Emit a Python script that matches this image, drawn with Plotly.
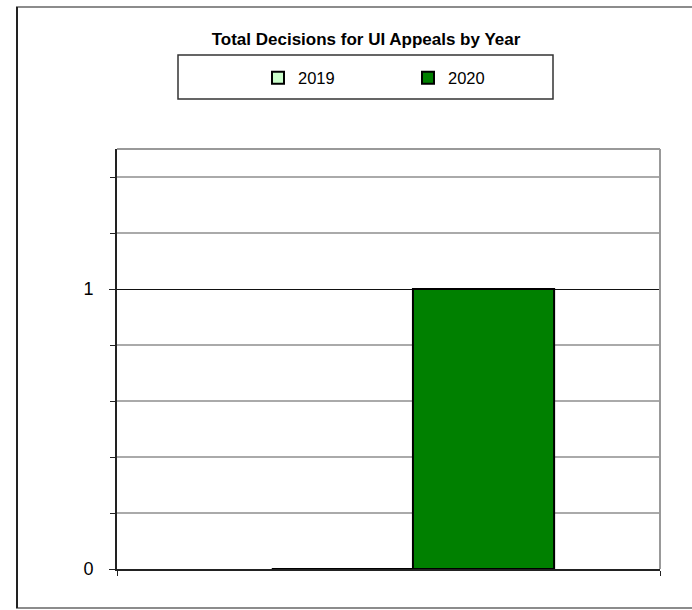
import plotly.graph_objects as go

# ---------------------------------------------------------------------------
# Data
# ---------------------------------------------------------------------------
categories = ["Total Decisions"]
years = ["2019", "2020"]
decisions_2019 = [0]
decisions_2020 = [1]

y_max = 1.5
minor_step = 0.2
major_step = 1

# ---------------------------------------------------------------------------
# Geometry (pixels in a 692 x 610 page)
# ---------------------------------------------------------------------------
W, H = 692, 610
PL, PR, PT, PB = 117, 660, 149, 569  # plot area edges

FONT = "Liberation Sans, Arial, sans-serif"


def px_x(px):
    return (px - PL) / (PR - PL)


def px_y(py):
    return (PB - py) / (PB - PT)


x_pos = list(range(len(categories)))

fig = go.Figure()
fig.add_trace(
    go.Bar(
        x=x_pos,
        y=decisions_2019,
        name=years[0],
        marker=dict(color="#ccffcc", line=dict(color="black", width=2)),
    )
)
fig.add_trace(
    go.Bar(
        x=x_pos,
        y=decisions_2020,
        name=years[1],
        marker=dict(color="#008000", line=dict(color="black", width=2)),
    )
)

shapes = [
    # outer chart border
    dict(type="rect", xref="paper", yref="paper",
         x0=px_x(17), x1=px_x(700), y0=px_y(608), y1=px_y(7),
         line=dict(color="#8c8c8c", width=2), layer="below"),
    dict(type="line", xref="paper", yref="paper",
         x0=px_x(17), x1=px_x(17), y0=px_y(608), y1=px_y(7),
         line=dict(color="#222222", width=2)),
    # legend box
    dict(type="rect", xref="paper", yref="paper",
         x0=px_x(178), x1=px_x(553), y0=px_y(99), y1=px_y(55),
         line=dict(color="#333333", width=1.5)),
    # plot area border (top / right)
    dict(type="line", xref="paper", yref="paper",
         x0=0, x1=1, y0=1, y1=1, line=dict(color="#999999", width=2)),
    dict(type="line", xref="paper", yref="paper",
         x0=1, x1=1, y0=0, y1=1, line=dict(color="#999999", width=2)),
]

fig.update_layout(
    width=W,
    height=H,
    margin=dict(l=PL, r=W - PR, t=PT, b=H - PB, pad=0),
    paper_bgcolor="white",
    plot_bgcolor="white",
    font=dict(family=FONT, color="black"),
    barmode="group",
    bargap=0.48,
    bargroupgap=0,
    title=dict(
        text="<b>Total Decisions for UI Appeals by Year</b>",
        font=dict(size=17, family=FONT, color="black"),
        xref="paper",
        x=px_x(366),
        xanchor="center",
        yref="container",
        y=1 - 39 / H,
        yanchor="middle",
    ),
    showlegend=True,
    legend=dict(
        orientation="h",
        x=px_x(258),
        xanchor="left",
        y=px_y(78),
        yanchor="middle",
        font=dict(size=16.5, family=FONT, color="black"),
        bgcolor="rgba(0,0,0,0)",
        borderwidth=0,
        entrywidth=105,
        traceorder="normal",
    ),
    xaxis=dict(
        range=[-0.545, 0.455],
        showgrid=False,
        zeroline=False,
        showline=True,
        linecolor="#222222",
        linewidth=2,
        tickmode="array",
        tickvals=[-0.545, 0.455],
        ticktext=["", ""],
        ticks="outside",
        ticklen=5,
        tickcolor="#222222",
        fixedrange=True,
    ),
    yaxis=dict(
        range=[0, y_max],
        tick0=0,
        dtick=major_step,
        showgrid=True,
        gridcolor="#111111",
        gridwidth=1,
        zeroline=False,
        showline=True,
        linecolor="#222222",
        linewidth=2,
        ticks="outside",
        ticklen=6,
        tickcolor="#222222",
        tickfont=dict(size=18, family=FONT, color="black"),
        ticklabelstandoff=12,
        minor=dict(
            dtick=minor_step,
            tick0=0,
            showgrid=True,
            gridcolor="#aaaaaa",
            gridwidth=2,
            ticks="outside",
            ticklen=5,
            tickcolor="#222222",
        ),
        fixedrange=True,
    ),
    shapes=shapes,
)

fig.write_html(
    "out.html",
    config={"displayModeBar": False},
    post_script="document.body.style.margin='0';",
)
